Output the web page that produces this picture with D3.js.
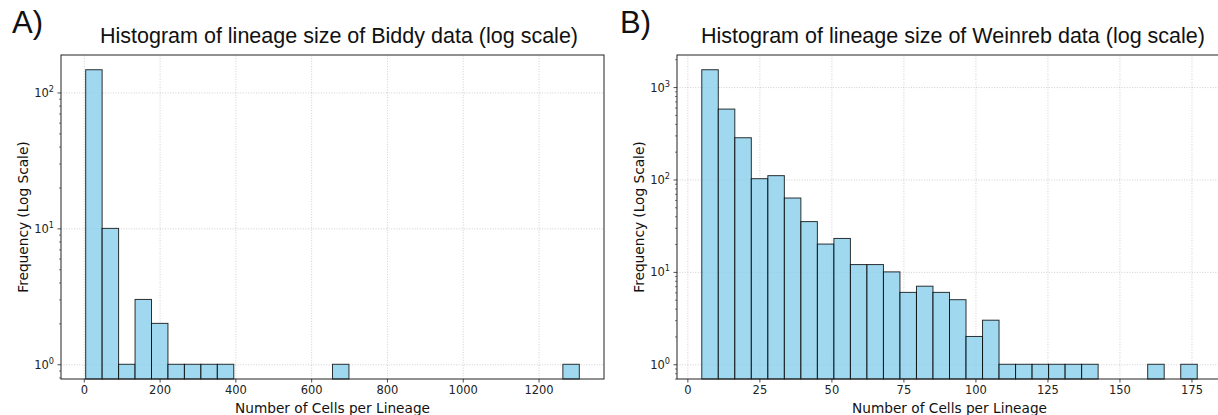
<!DOCTYPE html>
<html>
<head>
<meta charset="utf-8">
<script src="https://d3js.org/d3.v7.min.js"></script>
<title>Lineage size histograms</title>
<style>
  body { margin: 0; background: #fff; }
  .grid line { stroke: #b0b0b0; stroke-opacity: 0.75; stroke-width: 0.8; stroke-dasharray: 1,1.6; }
  .grid path { display: none; }
</style>
</head>
<body>
<div id="chart"></div>
<script>
// ---- data ----
var biddyTitle = "Histogram of lineage size of Biddy data (log scale)";
var weinrebTitle = "Histogram of lineage size of Weinreb data (log scale)";
var panelLetters = ["A)", "B)"];
var xLabel = "Number of Cells per Lineage";
var yLabel = "Frequency (Log Scale)";

// 30 equal bins between the smallest and largest lineage size
var biddyRange = [5, 1307.6];
var biddyCounts = [147, 10, 1, 3, 2, 1, 1, 1, 1, 0, 0, 0, 0, 0, 0, 1, 0, 0, 0, 0, 0, 0, 0, 0, 0, 0, 0, 0, 0, 1];
var biddyXTicks = [0, 200, 400, 600, 800, 1000, 1200];

var weinrebRange = [5, 177];
var weinrebCounts = [1541, 578, 283, 102, 110, 63, 35, 20, 23, 12, 12, 10, 6, 7, 6, 5, 2, 3, 1, 1, 1, 1, 1, 1, 0, 0, 0, 1, 0, 1];
var weinrebXTicks = [0, 25, 50, 75, 100, 125, 150, 175];

var W = 1218, H = 415;
var plotTop = 55, plotBottom = 379;

var svg = d3.select("#chart").append("svg")
    .attr("width", W).attr("height", H);

function styleTicks(sel) {
    sel.select(".domain").remove();
    sel.selectAll(".tick line").attr("stroke", "#222").attr("stroke-width", 0.8);
    sel.selectAll(".tick text")
        .style("font-family", "DejaVu Sans").style("font-size", "11.5px").attr("fill", "#222");
}

function panel(opt) {
    var counts = opt.counts;
    var n = counts.length;
    var lo = opt.range[0], hi = opt.range[1];
    var edges = d3.range(n + 1).map(function(i) { return lo + (hi - lo) * i / n; });

    // matplotlib style 5% margins
    var pad = (hi - lo) * 0.05;
    var x = d3.scaleLinear().domain([lo - pad, hi + pad]).range([opt.left, opt.right]);

    var lmax = Math.log10(d3.max(counts));
    var y = d3.scaleLog().domain([Math.pow(10, -0.05 * lmax), Math.pow(10, lmax * 1.05)]).range([plotBottom, plotTop]);

    var g = svg.append("g");
    var h = plotBottom - plotTop;

    var decades = d3.range(0, Math.floor(lmax * 1.05) + 1).map(function(k) { return Math.pow(10, k); });
    var minors = [];
    d3.range(-1, Math.ceil(lmax * 1.05) + 1).forEach(function(k) {
        for (var m = 2; m <= 9; m++) {
            var v = m * Math.pow(10, k);
            if (v >= y.domain()[0] && v <= y.domain()[1]) minors.push(v);
        }
    });

    // grid
    g.append("g").attr("class", "grid")
        .attr("transform", "translate(0," + plotBottom + ")")
        .call(d3.axisBottom(x).tickValues(opt.xTicks).tickSize(-h).tickFormat(""));
    g.append("g").attr("class", "grid")
        .attr("transform", "translate(" + opt.left + ",0)")
        .call(d3.axisLeft(y).tickValues(decades).tickSize(-(opt.right - opt.left)).tickFormat(""));

    // bars
    var bins = counts.map(function(c, i) { return {c: c, x0: edges[i], x1: edges[i + 1]}; })
        .filter(function(d) { return d.c > 0; });
    g.selectAll("rect.bar").data(bins).enter().append("rect")
        .attr("class", "bar")
        .attr("x", function(d) { return x(d.x0); })
        .attr("width", function(d) { return x(d.x1) - x(d.x0); })
        .attr("y", function(d) { return y(d.c); })
        .attr("height", function(d) { return plotBottom - y(d.c); })
        .attr("fill", "skyblue").attr("fill-opacity", 0.8)
        .attr("stroke", "#000").attr("stroke-opacity", 0.8).attr("stroke-width", 1);

    // axes
    var xa = g.append("g")
        .attr("transform", "translate(0," + plotBottom + ")")
        .call(d3.axisBottom(x).tickValues(opt.xTicks).tickSize(3.5).tickPadding(3.5).tickFormat(d3.format("d")));
    styleTicks(xa);

    var ya = g.append("g")
        .attr("transform", "translate(" + opt.left + ",0)")
        .call(d3.axisLeft(y).tickValues(decades).tickSize(3.5).tickPadding(3.5).tickFormat(""));
    styleTicks(ya);
    // 10^k labels with a raised exponent
    ya.selectAll(".tick text").each(function(d) {
        var t = d3.select(this).text(null);
        t.append("tspan").text("10");
        t.append("tspan").attr("dy", -5).style("font-size", "8.2px")
            .text(Math.round(Math.log10(d)));
        t.attr("dy", "0.35em");
    });

    var ym = g.append("g")
        .attr("transform", "translate(" + opt.left + ",0)")
        .call(d3.axisLeft(y).tickValues(minors).tickSize(2).tickFormat(""));
    styleTicks(ym);
    ym.selectAll(".tick line").attr("stroke-width", 0.6);

    // spines
    g.append("rect")
        .attr("x", opt.left).attr("y", plotTop)
        .attr("width", opt.right - opt.left).attr("height", h)
        .attr("fill", "none").attr("stroke", "#222").attr("stroke-width", 1);

    // labels
    g.append("text")
        .attr("x", (opt.left + opt.right) / 2).attr("y", 412.5)
        .attr("text-anchor", "middle")
        .style("font-family", "DejaVu Sans").style("font-size", "13.7px").attr("fill", "#111")
        .text(xLabel);
    g.append("text")
        .attr("transform", "translate(" + opt.yLabelX + "," + (plotTop + plotBottom) / 2 + ") rotate(-90)")
        .attr("text-anchor", "middle")
        .style("font-family", "DejaVu Sans").style("font-size", "13.7px").attr("fill", "#111")
        .text(yLabel);
    g.append("text")
        .attr("x", opt.titleX).attr("y", 43)
        .attr("text-anchor", "middle")
        .style("font-family", "Liberation Sans, Arial").style("font-size", "21.5px").attr("fill", "#111")
        .text(opt.title);
    g.append("text")
        .attr("x", opt.letterX).attr("y", 33)
        .style("font-family", "Liberation Sans, Arial").style("font-size", "31px").attr("fill", "#111")
        .text(opt.letter);
}

panel({counts: biddyCounts, range: biddyRange, xTicks: biddyXTicks,
       left: 61, right: 604, yLabelX: 28, titleX: 339, letterX: 12,
       title: biddyTitle, letter: panelLetters[0]});
panel({counts: weinrebCounts, range: weinrebRange, xTicks: weinrebXTicks,
       left: 677, right: 1222, yLabelX: 644, titleX: 953, letterX: 620,
       title: weinrebTitle, letter: panelLetters[1]});
</script>
</body>
</html>
